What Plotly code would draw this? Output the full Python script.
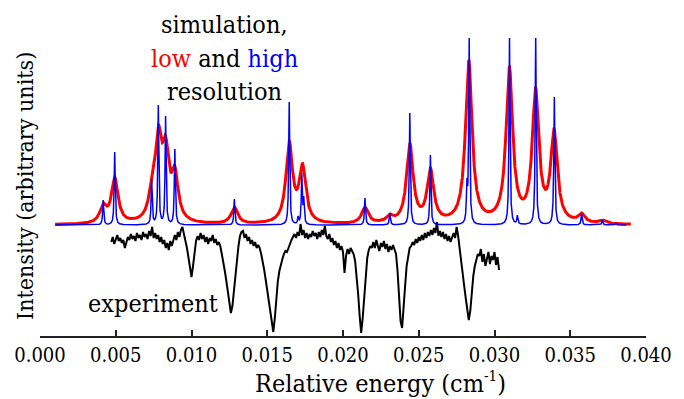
import numpy as np
import plotly.graph_objects as go

# ---------------- data ----------------
# high-resolution simulation (blue): line positions (cm^-1) and peak heights above baseline
hi_pos = [0.00417, 0.00493, 0.00737, 0.00781, 0.00829, 0.00890, 0.01283, 0.01645,
          0.01704, 0.01728, 0.01741, 0.02145, 0.02309, 0.02441, 0.02577, 0.02818,
          0.02833, 0.03099, 0.03151, 0.03272, 0.03384, 0.03395, 0.03575, 0.03712, 0.03800]
hi_int = [25, 73, 46, 120, 109, 76, 26, 123,
          9, 52, 29, 27, 12, 112, 70, 47,
          187, 187, 10, 187, 17, 128, 12, 5, 2]

# low-resolution simulation (red): peak positions and heights above baseline
lo_pos = [0.00417, 0.00493, 0.00737, 0.00781, 0.00829, 0.00890, 0.01283, 0.01645,
          0.01732, 0.02145, 0.02309, 0.02441, 0.02577, 0.02830, 0.03098, 0.03271,
          0.03393, 0.03575, 0.03712]
lo_int = [22, 48, 46, 100, 89, 59, 18, 84,
          62, 18, 11, 82, 57, 165, 159, 137,
          96, 12, 5]

sim_baseline = 111          # offset of simulated spectra
lo_hwhm = 0.00026
hi_hwhm = 0.00004
lo_range = (0.0010, 0.0390)
hi_range = (0.0010, 0.0387)

# experimental trace, sampled every 0.0001 cm^-1 starting at 0.0047
exp_start = 0.0047
exp_step = 0.0001
exp_y = [
    94, 99, 92, 97, 101, 95, 98, 93, 96, 88,
    94, 99, 96, 102, 97, 100, 95, 103, 98, 101,
    96, 104, 99, 102, 97, 105, 100, 109, 98, 103,
    97, 101, 94, 99, 92, 96, 88, 93, 86, 95,
    90, 97, 101, 96, 104, 99, 106, 109,
    100, 95, 88, 78, 68, 59, 70, 84, 95, 100,
    96, 103, 97, 101, 94, 99, 92, 98, 95, 101, 93, 97, 91, 94,
    90, 82, 75, 65, 55, 43, 32, 23, 30, 45, 62, 78, 90, 100, 104, 105,
    98, 102, 95, 99, 92, 96, 90, 94, 88, 91,
    88, 82, 75, 66, 56, 45, 34, 22, 12, 4, 18, 38, 55, 65, 72, 77, 82, 85, 84, 89, 92, 96, 99, 102,
    98, 104, 100, 112, 101, 106, 98, 103, 97, 102,
    99, 105, 100, 103, 97, 104, 99, 106, 101, 110,
    100, 97, 102, 94, 98, 91, 95, 88, 93, 86,
    90, 84, 63, 80, 87, 82, 88, 84,
    82, 75, 60, 42, 20, 3, 18, 40, 62, 78, 86, 90, 88,
    94, 88, 96, 90, 85, 93, 89, 95, 87, 92, 84, 90, 86, 91, 85,
    82, 65, 40, 15, 8, 25, 50, 70, 82, 88, 90,
    94, 91, 97, 93, 99, 95, 101, 96, 103, 98,
    104, 100, 106, 101, 108, 103, 114, 100, 105, 99,
    104, 97, 102, 95, 100, 94, 99, 103, 98, 109, 100,
    86, 75, 62, 50, 38, 26, 16, 25, 45, 60, 70, 77, 82,
    80, 87, 74, 82, 70, 78, 84, 72, 80, 76, 84, 71, 79, 66,
]

x_tickvals = [0.000, 0.005, 0.010, 0.015, 0.020, 0.025, 0.030, 0.035, 0.040]
x_ticktext = ["0.000", "0.005", "0.010", "0.015", "0.020", "0.025", "0.030", "0.035", "0.040"]


# ---------------- build simulated spectra from the line lists ----------------
def lorentz(d, g):
    return g * g / (g * g + d * d)


def spectrum(pos, heights, g, lo, hi, step=0.000004):
    pos = np.asarray(pos)
    h = np.asarray(heights, dtype=float)
    m = lorentz(pos[:, None] - pos[None, :], g)
    amp = np.linalg.solve(m, h)          # so that peak heights match the read values
    xs = np.arange(lo, hi + step / 2, step)
    ys = sim_baseline + (amp[None, :] * lorentz(xs[:, None] - pos[None, :], g)).sum(axis=1)
    return xs, ys


lo_x, lo_y = spectrum(lo_pos, lo_int, lo_hwhm, *lo_range)
hi_x, hi_y = spectrum(hi_pos, hi_int, hi_hwhm, *hi_range, step=0.000002)
exp_x = exp_start + exp_step * np.arange(len(exp_y))

fig = go.Figure()
fig.add_trace(go.Scatter(x=exp_x, y=exp_y, mode="lines",
                         line=dict(color="black", width=2)))
fig.add_trace(go.Scatter(x=lo_x, y=lo_y, mode="lines",
                         line=dict(color="#ff0000", width=3)))
fig.add_trace(go.Scatter(x=hi_x, y=hi_y, mode="lines",
                         line=dict(color="#0000ff", width=1.5)))

fam = "DejaVu Serif Condensed, DejaVu Serif"


def px_x(p):   # pixel column -> paper fraction
    return (p - 40) / 608


def px_y(p):   # pixel row -> paper fraction
    return (336 - p) / 306


def label(text, x, y, size, angle=0):
    return dict(text=text, xref="paper", yref="paper", x=px_x(x), y=px_y(y),
                showarrow=False, xanchor="center", yanchor="middle", textangle=angle,
                font=dict(family=fam, size=size, color="black"))


fig.update_layout(
    width=684, height=399,
    margin=dict(l=40, r=36, t=30, b=63),
    paper_bgcolor="white", plot_bgcolor="white",
    showlegend=False,
    font=dict(family=fam, color="black"),
    xaxis=dict(range=[0, 0.04], tickvals=x_tickvals, ticktext=x_ticktext,
               ticks="inside", ticklen=6, tickwidth=2, tickcolor="#222",
               showline=True, linecolor="#222", linewidth=2,
               showgrid=False, zeroline=False,
               tickfont=dict(family=fam, size=20, color="black")),
    yaxis=dict(range=[0, 306], visible=False, showgrid=False, zeroline=False),
    annotations=[
        label("Relative energy (cm<sup><span style='font-size:15px'>-1</span></sup>)",
              382, 382, 25),
        label("Intensity (arbitrary units)", 25, 186, 23, angle=-90),
        label("simulation,", 225, 24, 25),
        label("<span style='color:#ff0000'>low</span> and "
              "<span style='color:#0000ff'>high</span>", 225, 58, 25),
        label("resolution", 225, 92, 25),
        label("experiment", 153, 303, 25),
    ],
)

fig.write_html("out.html")
